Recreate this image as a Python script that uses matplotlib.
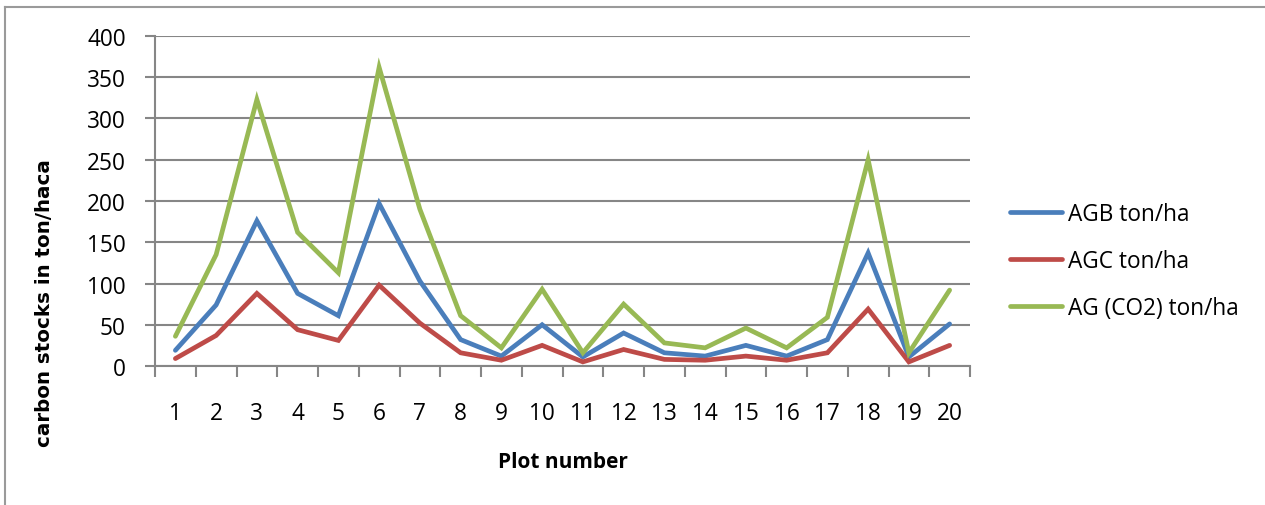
import numpy as np
import matplotlib.pyplot as plt
from matplotlib.lines import Line2D

plots = list(range(1, 21))
agb = [19, 74, 176, 88, 61, 197, 103, 32, 12, 50, 11, 40, 16, 12, 25, 12, 32, 137, 11, 51]
agc = [9, 37, 88, 44, 31, 98, 52, 16, 7, 25, 5, 20, 8, 7, 12, 7, 16, 69, 5, 25]
ag_co2 = [36, 135, 323, 162, 113, 362, 190, 61, 22, 93, 16, 75, 28, 22, 46, 22, 59, 250, 16, 92]

series_names = ["AGB ton/ha", "AGC ton/ha", "AG (CO2) ton/ha"]
colors = ["#4A7EBB", "#BE4B48", "#98B954"]

W, H = 1265, 506
plt.rcParams['font.family'] = ['Open Sans', 'DejaVu Sans']

fig = plt.figure(figsize=(W / 100, H / 100), dpi=100)
ax = fig.add_axes([155 / W, 1 - 367 / H, (970 - 155) / W, (367 - 37) / H])

for vals, name, c in zip([agb, agc, ag_co2], series_names, colors):
    ax.plot(plots, vals, color=c, lw=3.4, label=name, solid_capstyle='round',
            solid_joinstyle='miter')

ax.set_xlim(0.5, 20.5)
ax.set_ylim(0, 400)
ax.set_yticks(np.arange(0, 401, 50))
ax.yaxis.grid(True, color="#868686", lw=1.5)
ax.set_axisbelow(True)

ax.set_xticks(plots)
ax.set_xticklabels([str(p) for p in plots], fontsize=16.3)
ax.set_xticks(np.arange(0.5, 21, 1), minor=True)
ax.tick_params(axis='x', which='major', length=0, pad=25)
ax.tick_params(axis='x', which='minor', length=8, width=1.5, color="#868686")
ax.tick_params(axis='y', length=7, width=1.5, color="#868686", pad=14, labelsize=16.3)

for s in ['top', 'right']:
    ax.spines[s].set_visible(False)
for s in ['left', 'bottom']:
    ax.spines[s].set_color("#868686")
    ax.spines[s].set_linewidth(1.5)

fig.text(563 / W, 1 - 463 / H, "Plot number", ha='center', va='center',
         fontsize=15, fontweight='bold')
fig.text(45 / W, 1 - 303 / H, "carbon stocks in ton/haca", ha='center', va='center',
         rotation=90, fontsize=14.3, fontweight='bold', family='DejaVu Sans')

ax.legend(loc='upper left', bbox_to_anchor=(990 / W, 1 - 183 / H), bbox_transform=fig.transFigure,
          frameon=False, fontsize=16.3, handlelength=2.3, handletextpad=0.25, labelspacing=1.0)

# chart area border (left and top edges)
fig.add_artist(Line2D([5 / W, 5 / W], [0, 1 - 8 / H], transform=fig.transFigure, color="#9A9A9A", lw=1.5))
fig.add_artist(Line2D([5 / W, 1], [1 - 8 / H, 1 - 8 / H], transform=fig.transFigure, color="#9A9A9A", lw=1.5))

fig.savefig("out.png", dpi=100)
